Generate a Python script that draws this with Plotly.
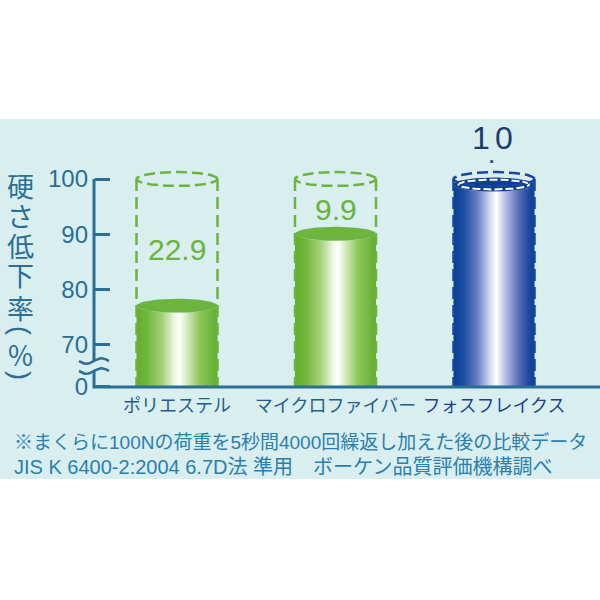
import numpy as np
import plotly.graph_objects as go

# 硬さ低下率 data (%)
categories = ["ポリエステル", "マイクロファイバー", "フォスフレイクス"]
reduction = [22.9, 9.9, 1.0]
full_scale = 100
tick_values = [0, 70, 80, 90, 100]
tick_labels = ["0", "70", "80", "90", "100"]
y_title = ["硬", "さ", "低", "下", "率", "(", "％", ")"]
note_lines = [
    "※まくらに100Nの荷重を5秒間4000回繰返し加えた後の比較データ",
    "JIS K 6400-2:2004 6.7D法 準用　ボーケン品質評価機構調べ",
]

W = H = 600
PX_Y = 5.533   # px per % on the y axis
PX_X = 158.5   # px per category step
ZERO_DISP = 62.41   # where "0" sits below the axis break
Y_MAX = 100 + 179 / PX_Y
Y_MIN = Y_MAX - H / PX_Y
X_MIN = -177 / PX_X
X_MAX = X_MIN + W / PX_X
AXIS_X = X_MIN + 94 / PX_X

BAND = "#d9eeee"
AXIS = "#2a6e96"
JP = "Noto Sans CJK JP"
NUM = "Liberation Sans"
MIX = "Liberation Sans, Noto Sans CJK JP"

green_grad = [[0, "#62ad2e"], [0.14, "#71b93c"], [0.32, "#a6d27c"], [0.46, "#e8f5dc"],
              [0.53, "#ffffff"], [0.62, "#d6ebbf"], [0.78, "#8cc65a"], [1, "#62ad2e"]]
blue_grad = [[0, "#0a3f93"], [0.12, "#1a4ca0"], [0.3, "#6d80c4"], [0.45, "#d2d8f0"],
             [0.53, "#ffffff"], [0.62, "#c2c9e9"], [0.8, "#5a6fbb"], [0.93, "#1c49a0"], [1, "#0a3f93"]]
bar_styles = [
    dict(grad=green_grad, face="#6cb53f", dash="#6cb440", label="#6ab33c", tick="#1f5d8c"),
    dict(grad=green_grad, face="#6cb53f", dash="#6cb440", label="#6ab33c", tick="#1f5d8c"),
    dict(grad=blue_grad, face="#0c3f8e", dash="#1747a0", label="#1d3c6c", tick="#1c3f93"),
]

hw = 40.5 / PX_X      # half bar width
eb = 7.0 / PX_Y       # ellipse half height
theta = np.linspace(0, 2 * np.pi, 90)
lower = np.linspace(np.pi, 2 * np.pi, 45)

fig = go.Figure()

remaining = [full_scale - r for r in reduction]

for i, (top, st) in enumerate(zip(remaining, bar_styles)):
    # cylinder body
    bx = [i - hw] + list(i + hw * np.cos(lower)) + [i + hw, i - hw]
    by = [ZERO_DISP] + list(top + eb * np.sin(lower)) + [ZERO_DISP, ZERO_DISP]
    fig.add_trace(go.Scatter(
        x=bx, y=by, mode="lines", fill="toself", line=dict(width=0),
        fillgradient=dict(type="horizontal", colorscale=st["grad"]),
        hoverinfo="skip", showlegend=False,
    ))
    # top face
    fig.add_trace(go.Scatter(
        x=i + hw * np.cos(theta), y=top + eb * np.sin(theta), mode="lines",
        fill="toself", fillcolor=st["face"], line=dict(width=0),
        hoverinfo="skip", showlegend=False,
    ))
    if i == 2:
        fig.add_trace(go.Scatter(
            x=i + hw * 0.88 * np.cos(theta), y=top + eb * 0.7 * np.sin(theta), mode="lines",
            line=dict(color="white", width=2, dash="8px,3px"),
            hoverinfo="skip", showlegend=False,
        ))
    # dashed outline of the full 100% cylinder
    for side in (-1, 1):
        fig.add_trace(go.Scatter(
            x=[i + side * hw, i + side * hw], y=[full_scale, ZERO_DISP], mode="lines",
            line=dict(color=st["dash"], width=2.5, dash="12px,6px"),
            hoverinfo="skip", showlegend=False,
        ))
    fig.add_trace(go.Scatter(
        x=i + hw * np.cos(theta), y=full_scale + eb * np.sin(theta), mode="lines",
        line=dict(color=st["dash"], width=2.5, dash="11px,5px"),
        hoverinfo="skip", showlegend=False,
    ))

# y axis line with a break between 0 and 70
wave_y = [67.1, 65.3]
fig.add_trace(go.Scatter(
    x=[AXIS_X, AXIS_X], y=[full_scale, wave_y[0]], mode="lines",
    line=dict(color=AXIS, width=3), hoverinfo="skip", showlegend=False,
))
fig.add_trace(go.Scatter(
    x=[AXIS_X, AXIS_X, X_MAX], y=[wave_y[1], ZERO_DISP, ZERO_DISP], mode="lines",
    line=dict(color=AXIS, width=3), hoverinfo="skip", showlegend=False,
))
t = np.linspace(0, 1, 30)
for wy in wave_y:
    fig.add_trace(go.Scatter(
        x=AXIS_X + (-15 + 30 * t) / PX_X, y=wy - 0.5 * np.sin(2 * np.pi * t),
        mode="lines", line=dict(color=AXIS, width=2.5),
        hoverinfo="skip", showlegend=False,
    ))

# value labels (reduction)
for i, (r, top, st) in enumerate(zip(reduction, remaining, bar_styles)):
    txt = f"{r:.1f}"
    if (full_scale - top) * PX_Y > 30:
        fig.add_annotation(x=i, y=full_scale - 0.56 * r, text=txt, showarrow=False,
                           xanchor="center", yanchor="middle",
                           font=dict(family=NUM, size=30, color=st["label"]))
    else:
        # small value sits above the cylinder, decimal point dropped low
        whole, frac = txt.split(".")
        for part, dx in ((whole, -13), (frac, 10)):
            fig.add_annotation(x=i, y=full_scale, text=part, showarrow=False,
                               xanchor="center", yanchor="middle", xshift=dx, yshift=41,
                               font=dict(family=NUM, size=32, color=st["label"]))
        fig.add_annotation(x=i, y=full_scale, text=".", showarrow=False,
                           xanchor="center", yanchor="middle", xshift=-3, yshift=25,
                           font=dict(family=NUM, size=26, color=st["label"]))

# y axis title, one character per line (brackets turned for vertical writing)
title_px = [185, 215, 245, 275, 307, 330, 354, 375]
for ch, py in zip(y_title, title_px):
    turned = ch in "()"
    fig.add_annotation(xref="paper", yref="paper", x=20 / W, y=1 - py / H, text=ch,
                       xanchor="center", yanchor="middle", textangle=90 if turned else 0,
                       showarrow=False,
                       font=dict(family=NUM if turned else JP, size=27, color=AXIS))

for line, py, fs in zip(note_lines, [442, 467], [19, 20]):
    fig.add_annotation(xref="paper", yref="paper", x=12 / W, y=1 - py / H, text=line,
                       xanchor="left", yanchor="middle", showarrow=False,
                       font=dict(family=MIX, size=fs, color="#2b7fae"))

disp_ticks = [ZERO_DISP if v == 0 else v for v in tick_values]
cat_text = [f"<span style='color:{st['tick']}'>{c}</span>" for c, st in zip(categories, bar_styles)]

fig.update_layout(
    width=W, height=H,
    margin=dict(l=0, r=0, t=0, b=0),
    paper_bgcolor="white", plot_bgcolor="rgba(0,0,0,0)",
    showlegend=False,
    shapes=[dict(type="rect", xref="paper", yref="paper", x0=0, x1=1,
                 y0=1 - 479 / H, y1=1 - 119 / H, fillcolor=BAND, line_width=0, layer="below")],
    xaxis=dict(range=[X_MIN, X_MAX], domain=[0, 1], anchor="free", position=1 - 387 / H,
               tickvals=list(range(len(categories))), ticktext=cat_text,
               tickfont=dict(family=MIX, size=18), ticklabelstandoff=6,
               showgrid=False, zeroline=False, showline=False, ticks=""),
    yaxis=dict(range=[Y_MIN, Y_MAX], domain=[0, 1], anchor="free", position=94 / W,
               tickvals=disp_ticks, ticktext=tick_labels,
               tickfont=dict(family=NUM, size=24, color=AXIS), ticklabelstandoff=6,
               ticks="inside", ticklen=15, tickwidth=3, tickcolor=AXIS,
               showgrid=False, zeroline=False, showline=False),
)

fig.write_html("out.html", config={"displayModeBar": False},
               post_script="document.body.style.margin='0';")
